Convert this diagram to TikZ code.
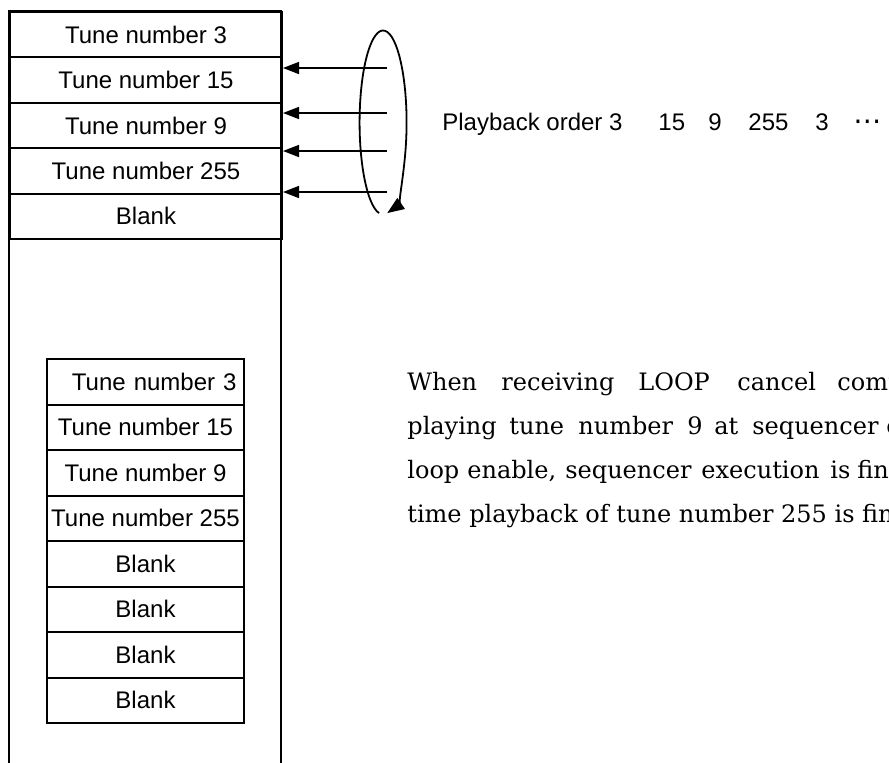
\documentclass[tikz,border=0pt]{standalone}
\usepackage{fontspec}
\setmainfont{Liberation Sans}
\newfontfamily\serifpara{DejaVu Serif}
\newfontfamily\dotsfont{DejaVu Sans}
\usetikzlibrary{arrows.meta}
\begin{document}
\begin{tikzpicture}[x=0.5pt,y=-0.5pt,
  bigrow/.style={draw, line width=1pt, minimum width=136pt, minimum height=22.7pt,
    inner sep=0pt, anchor=north west, font=\fontsize{12}{14}\selectfont},
  smallrow/.style={draw, line width=1pt, minimum width=98.5pt, minimum height=22.75pt,
    inner sep=0pt, anchor=north west, font=\fontsize{12}{14}\selectfont},
  rightrow/.style={smallrow, text width=91pt, align=right},
  arr/.style={line width=0.8pt, -{Triangle[length=8pt,width=6pt]}},
  looparr/.style={line width=0.9pt, -{Triangle[length=8.5pt,width=6.5pt]}},
  lbl/.style={anchor=base west, inner sep=0pt, font=\fontsize{12}{14}\selectfont},
  sw/.style={anchor=base west, inner sep=0pt, font=\serifpara\fontsize{12}{14}\selectfont}]
\useasboundingbox (0,0) rectangle (889,762);
\clip (0,0) rectangle (889,762);
\fill[white] (0,0) rectangle (889,762);

% outer frame
\draw[line width=1pt] (9,780) -- (9,11) -- (281,11) -- (281,780);

% upper table
\node[bigrow] (u3)   at (9,11)    {Tune number 3};
\node[bigrow] (u15)  at (9,56.4)  {Tune number 15};
\node[bigrow] (u9)   at (9,101.8) {Tune number 9};
\node[bigrow] (u255) at (9,147.2) {Tune number 255};
\node[bigrow] (ub)   at (9,192.6) {Blank};

% arrows and loop
\coordinate (a1) at (387,68);
\coordinate (a2) at (387,113);
\coordinate (a3) at (387,151);
\coordinate (a4) at (387,192);
\draw[arr] (a1) -- (a1 -| u15.east);
\draw[arr] (a2) -- (a2 -| u9.east);
\draw[arr] (a3) -- (a3 -| u255.east);
\draw[arr] (a4) -- (a4 -| u255.east);
\coordinate (loopstart) at (379.0,213.1);
\draw[looparr] (loopstart) arc[start angle=100, end angle=440, x radius=23.5, y radius=92];

% playback order
\node[lbl] (po)  at (442,130) {Playback order 3};
\node[lbl] (p15) at (658,130) {15};
\node[lbl] (p9)  at (708,130) {9};
\node[lbl] (p255) at (748,130) {255};
\node[lbl] (p3)  at (815,130) {3};
\node[anchor=base west, inner sep=0pt, font=\dotsfont\fontsize{14}{16}\selectfont] (pd) at (853,130) {⋯};

% lower table
\node[rightrow] (l3)   at (46,358)   {Tune number 3};
\node[smallrow] (l15)  at (46,403.5) {Tune number 15};
\node[smallrow] (l9)   at (46,449)   {Tune number 9};
\node[smallrow] (l255) at (46,494.5) {Tune number 255};
\node[smallrow] (lb1)  at (46,540)   {Blank};
\node[smallrow] (lb2)  at (46,585.5) {Blank};
\node[smallrow] (lb3)  at (46,631)   {Blank};
\node[smallrow] (lb4)  at (46,676.5) {Blank};

% explanatory text
\node[sw] (w11) at (407,390) {When};
\node[sw] (w12) at (501,390) {receiving};
\node[sw] (w13) at (638,390) {LOOP};
\node[sw] (w14) at (737,390) {cancel};
\node[sw] (w15) at (837,390) {command};
\node[sw] (w21) at (407,434) {playing};
\node[sw] (w22) at (509,434) {tune};
\node[sw] (w23) at (578,434) {number};
\node[sw] (w24) at (687,434) {9};
\node[sw] (w25) at (714,434) {at};
\node[sw] (w26) at (752,434) {sequencer};
\node[sw] (w27) at (886,434) {execution};
\node[sw] (w31) at (407,478) {loop};
\node[sw] (w32) at (467,478) {enable,};
\node[sw] (w33) at (565,478) {sequencer};
\node[sw] (w34) at (701,478) {execution};
\node[sw] (w35) at (830,478) {is};
\node[sw] (w36) at (857,478) {finished};
\node[sw] (w41) at (407,522) {time playback of tune number 255 is finished.};
\end{tikzpicture}
\end{document}
